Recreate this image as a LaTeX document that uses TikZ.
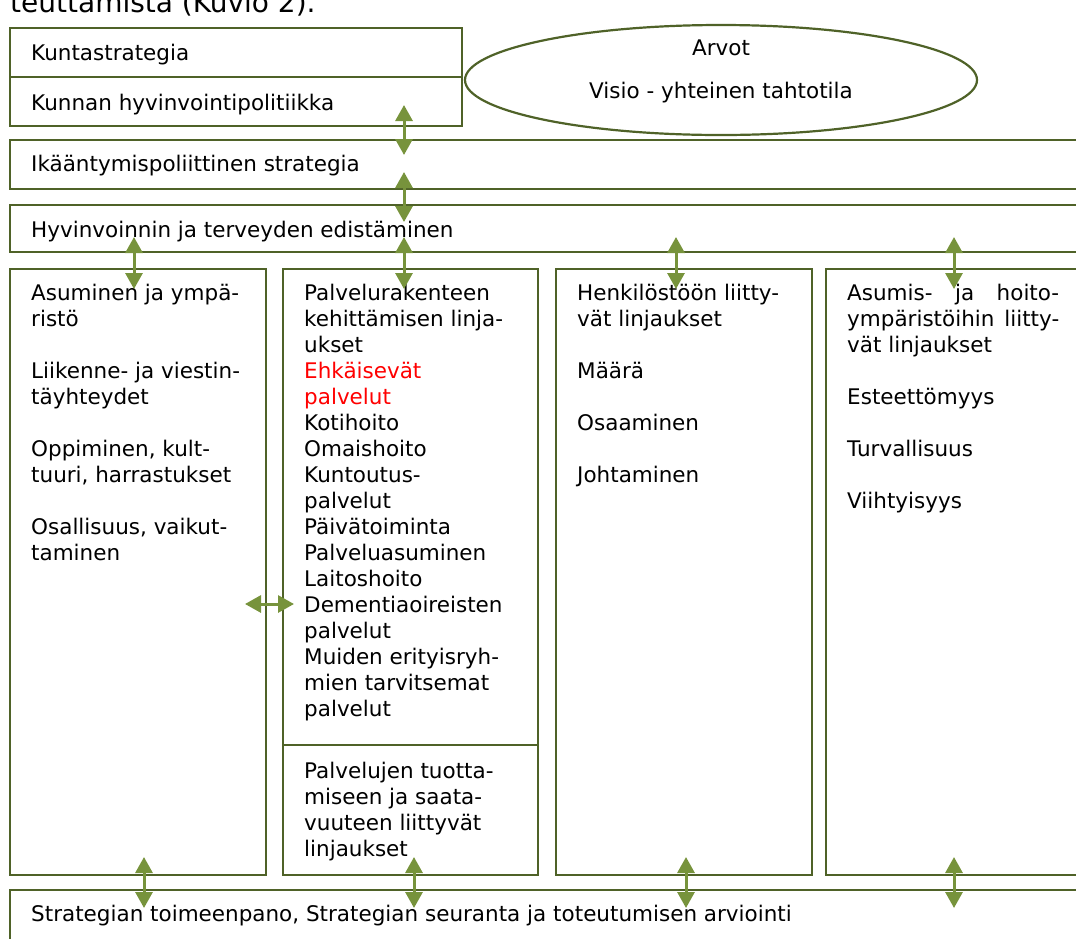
\documentclass[tikz,border=0pt]{standalone}
\usepackage{fontspec}
\setmainfont{DejaVu Sans}
\usetikzlibrary{arrows.meta}
\definecolor{boxline}{HTML}{4F6228}
\definecolor{arrowgreen}{HTML}{77933C}
\begin{document}
\begin{tikzpicture}[x=1pt,y=-1pt,
  boxst/.style={draw=boxline,line width=2.2pt},
  txt/.style={inner sep=0pt,anchor=base west,align=left,font=\fontsize{21.5}{26}\selectfont},
  blk/.style={txt,anchor=north west},
  dbl/.style={draw=arrowgreen,line width=3pt,{Triangle[width=17pt,length=16pt]}-{Triangle[width=17pt,length=16pt]}}]
\useasboundingbox (0,0) rectangle (1076,938);
\clip (0,0) rectangle (1076,938);
% cut caption at top
\node[inner sep=0pt,anchor=base west,font=\fontsize{28}{34}\selectfont] (cap) at (10,12) {teuttamista (Kuvio 2).};
% top boxes
\draw[boxst] (10,28) rectangle (462,77);
\draw[boxst] (10,77) rectangle (462,126);
\node[txt] (kunta) at (31,60) {Kuntastrategia};
\node[txt] (hyvpol) at (31,110) {Kunnan hyvinvointipolitiikka};
% ellipse
\draw[boxst] (721,80) ellipse [x radius=256, y radius=55];
\node[txt,anchor=base] (arvot) at (721,55) {Arvot};
\node[txt,anchor=base] (visio) at (721,98) {Visio - yhteinen tahtotila};
% wide bands
\draw[boxst] (1090,140) -- (10,140) -- (10,189) -- (1090,189);
\node[txt] (ikaa) at (31,171) {Ikääntymispoliittinen strategia};
\draw[boxst] (1090,205) -- (10,205) -- (10,252) -- (1090,252);
\node[txt] (hyvter) at (31,237) {Hyvinvoinnin ja terveyden edistäminen};
% columns
\draw[boxst] (10,269) rectangle (266,875);
\draw[boxst] (283,269) rectangle (538,875);
\draw[boxst] (283,745) -- (538,745);
\draw[boxst] (556,269) rectangle (812,875);
\draw[boxst] (1090,269) -- (826,269) -- (826,875) -- (1090,875);
\node[blk] (c1) at (31,281.8) {\strut Asuminen ja ympä-\\ristö\\[26pt]Liikenne- ja viestin-\\täyhteydet\\[26pt]Oppiminen, kult-\\tuuri, harrastukset\\[26pt]Osallisuus, vaikut-\\taminen};
\node[blk] (c2) at (304,281.8) {\strut Palvelurakenteen\\kehittämisen linja-\\ukset\\\textcolor{red}{Ehkäisevät}\\\textcolor{red}{palvelut}\\Kotihoito\\Omaishoito\\Kuntoutus-\\palvelut\\Päivätoiminta\\Palveluasuminen\\Laitoshoito\\Dementiaoireisten\\palvelut\\Muiden erityisryh-\\mien tarvitsemat\\palvelut};
\node[blk] (c2b) at (304,759.8) {\strut Palvelujen tuotta-\\miseen ja saata-\\vuuteen liittyvät\\linjaukset};
\node[blk] (c3) at (577,281.8) {\strut Henkilöstöön liitty-\\vät linjaukset\\[26pt]Määrä\\[26pt]Osaaminen\\[26pt]Johtaminen};
\node[blk] (c4) at (847,281.8) {\strut\hbox to 212pt{Asumis-\hfill ja\hfill hoito-}\\\hbox to 212pt{ympäristöihin\hfill liitty-}\\vät linjaukset\\[26pt]Esteettömyys\\[26pt]Turvallisuus\\[26pt]Viihtyisyys};
% bottom band
\draw[boxst] (1090,890) -- (10,890) -- (10,950);
\node[txt] (impl) at (31,921) {Strategian toimeenpano, Strategian seuranta ja toteutumisen arviointi};
% arrows
\coordinate (a1t) at (404,105); \coordinate (a1b) at (404,155);
\coordinate (a2t) at (404,172); \coordinate (a2b) at (404,222);
\coordinate (a3t) at (404,237); \coordinate (a3b) at (404,289);
\coordinate (a4t) at (134,237); \coordinate (a4b) at (134,289);
\coordinate (a5t) at (676,237); \coordinate (a5b) at (676,289);
\coordinate (a6t) at (954,237); \coordinate (a6b) at (954,289);
\coordinate (b1t) at (144,857); \coordinate (b1b) at (144,908);
\coordinate (b2t) at (414,857); \coordinate (b2b) at (414,908);
\coordinate (b3t) at (686,857); \coordinate (b3b) at (686,908);
\coordinate (b4t) at (954,857); \coordinate (b4b) at (954,908);
\coordinate (hl) at (245,604); \coordinate (hr) at (294,604);
\foreach \p in {a1,a2,a3,a4,a5,a6,b1,b2,b3,b4}{\draw[dbl] (\p t) -- (\p b);}
\draw[dbl] (hl) -- (hr);
\end{tikzpicture}
\end{document}
